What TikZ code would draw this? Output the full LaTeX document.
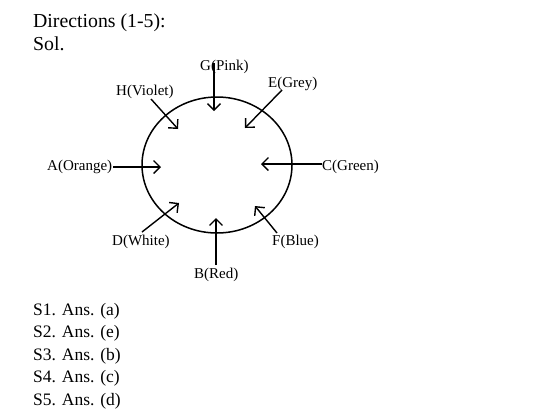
\documentclass[tikz,border=0pt]{standalone}
\usepackage{fontspec}
\setmainfont{Liberation Serif}
\usetikzlibrary{arrows.meta,shapes.geometric}
\begin{document}
\begin{tikzpicture}[x=1pt,y=-1pt,
  lbl/.style={anchor=base west,inner sep=0pt,font=\fontsize{15}{17}\selectfont},
  big/.style={anchor=base west,inner sep=0pt,font=\fontsize{19.8}{22}\selectfont},
  ans/.style={anchor=base west,inner sep=0pt,font=\fontsize{17.5}{22}\selectfont},
  arr/.style={-{Straight Barb[length=6.5pt,width=13pt]},line width=1.4pt},
  ring/.style={draw,ellipse,line width=1.5pt,inner sep=0pt}]
\useasboundingbox (0,0) rectangle (550,416);
% header
\node[big] (dir) at (33,27) {Directions (1-5):};
\node[big] (sol) at (33,50) {Sol.};
% circle
\node[ring,minimum width=150pt,minimum height=136pt] (circ) at (217,165) {};
% labels
\node[lbl] (G) at (200,70) {G(Pink)};
\node[lbl] (E) at (268,87) {E(Grey)};
\node[lbl] (H) at (116,95) {H(Violet)};
\node[lbl] (A) at (47,170) {A(Orange)};
\node[lbl] (C) at (322,170) {C(Green)};
\node[lbl] (D) at (112,245) {D(White)};
\node[lbl] (B) at (194,278) {B(Red)};
\node[lbl] (F) at (272,245) {F(Blue)};
% arrow end points
\coordinate (gs) at (214,63);  \coordinate (ge) at (214,111);
\coordinate (es) at (282,90);  \coordinate (ee) at (245,128);
\coordinate (hs) at (151,99);  \coordinate (he) at (178,129);
\coordinate (as) at (113,167); \coordinate (ae) at (161,167);
\coordinate (cs) at (322,164); \coordinate (ce) at (261,164);
\coordinate (ds) at (142,232); \coordinate (de) at (179,203);
\coordinate (bs) at (216,265); \coordinate (be) at (216,218);
\coordinate (fs) at (277,233); \coordinate (fe) at (255,206);
\draw[arr] (gs) -- (ge);
\draw[arr] (es) -- (ee);
\draw[arr] (hs) -- (he);
\draw[arr] (as) -- (ae);
\draw[arr] (cs) -- (ce);
\draw[arr] (ds) -- (de);
\draw[arr] (bs) -- (be);
\draw[arr] (fs) -- (fe);
% answers
\node[ans] (s1) at (33,315) {S1. Ans. (a)};
\node[ans] (s2) at (33,337) {S2. Ans. (e)};
\node[ans] (s3) at (33,360) {S3. Ans. (b)};
\node[ans] (s4) at (33,382) {S4. Ans. (c)};
\node[ans] (s5) at (33,405) {S5. Ans. (d)};
\end{tikzpicture}
\end{document}
